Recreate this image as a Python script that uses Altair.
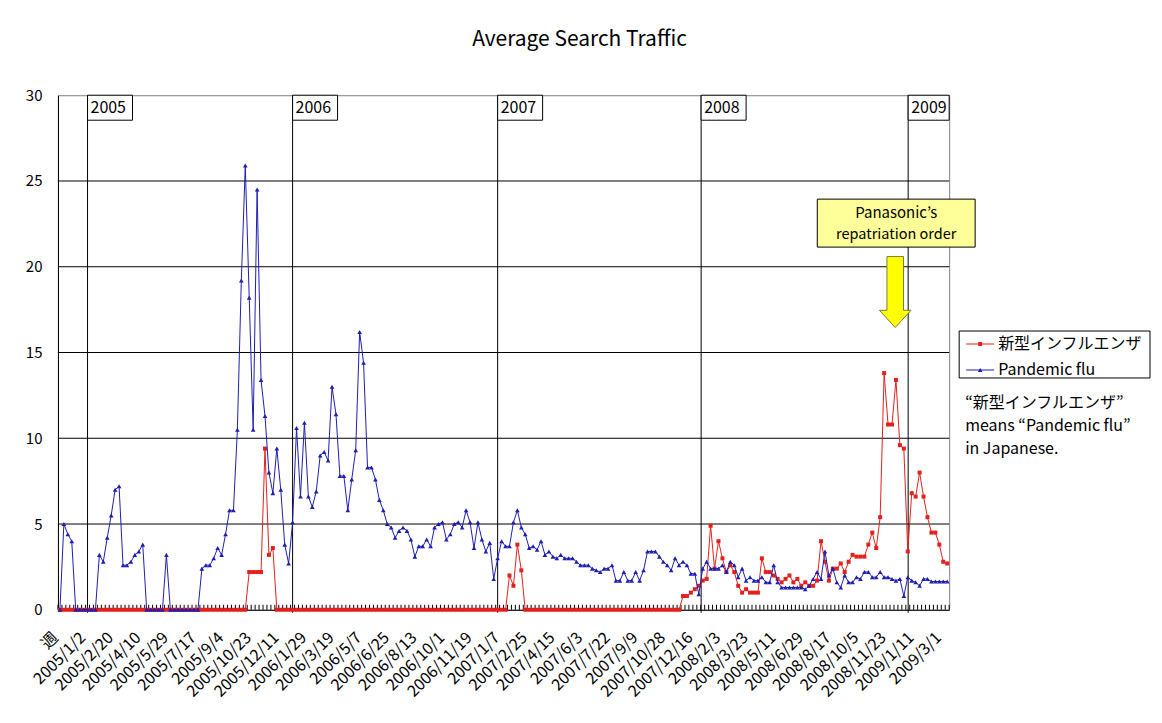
import json
import altair as alt
import pandas as pd

# ---------------- data ----------------
tick_labels = [
    "週", "2005/1/2", "2005/2/20", "2005/4/10", "2005/5/29", "2005/7/17", "2005/9/4",
    "2005/10/23", "2005/12/11", "2006/1/29", "2006/3/19", "2006/5/7", "2006/6/25",
    "2006/8/13", "2006/10/1", "2006/11/19", "2007/1/7", "2007/2/25", "2007/4/15",
    "2007/6/3", "2007/7/22", "2007/9/9", "2007/10/28", "2007/12/16", "2008/2/3",
    "2008/3/23", "2008/5/11", "2008/6/29", "2008/8/17", "2008/10/5", "2008/11/23",
    "2009/1/11", "2009/3/1",
]

# 新型インフルエンザ (weekly, index 0..225)
red = [
    0, 0, 0, 0, 0, 0, 0, 0, 0, 0, 0, 0, 0, 0, 0, 0,
    0, 0, 0, 0, 0, 0, 0, 0, 0, 0, 0, 0, 0, 0, 0, 0,
    0, 0, 0, 0, 0, 0, 0, 0, 0, 0, 0, 0, 0, 0, 0, 0,
    2.2, 2.2, 2.2, 2.2, 9.4, 3.2, 3.6,
    0, 0, 0, 0, 0, 0, 0, 0, 0, 0, 0, 0, 0, 0, 0, 0, 0, 0, 0, 0,
    0, 0, 0, 0, 0, 0, 0, 0, 0, 0, 0, 0, 0, 0, 0, 0, 0, 0, 0, 0,
    0, 0, 0, 0, 0, 0, 0, 0, 0, 0, 0, 0, 0, 0, 0, 0, 0, 0, 0,
    2.0, 1.4, 3.8, 2.3,
    0, 0, 0, 0, 0, 0, 0, 0, 0, 0, 0, 0, 0, 0, 0, 0, 0, 0, 0, 0,
    0, 0, 0, 0, 0, 0, 0, 0, 0, 0, 0, 0, 0, 0, 0, 0, 0, 0, 0, 0,
    0.8, 0.8, 1.0, 1.2, 1.4, 1.7, 1.8,
    4.9, 2.4, 4.0, 3.0, 2.2, 2.6, 2.2,
    1.4, 1.0, 1.2, 1.0, 1.0, 1.0,
    3.0, 2.2, 2.2, 2.0, 1.8, 1.6, 1.8, 2.0, 1.6, 1.8, 1.4,
    1.6, 1.4, 1.4, 1.7,
    4.0, 2.8, 1.7, 2.4, 2.4, 2.7, 2.2, 2.8, 3.2, 3.1, 3.1, 3.1,
    3.8, 4.5, 3.6, 5.4,
    13.8, 10.8, 10.8, 13.4, 9.6, 9.4,
    3.4, 6.8, 6.6, 8.0, 6.6, 5.4, 4.5, 4.5, 3.8, 2.8, 2.7,
]

# Pandemic flu
blue = [
    0,
    5.0, 4.4, 4.0,
    0, 0, 0, 0, 0, 0,
    3.2, 2.8, 4.2, 5.5, 7.0, 7.2, 2.6, 2.6, 2.8, 3.2, 3.4, 3.8,
    0, 0, 0, 0, 0,
    3.2,
    0, 0, 0, 0, 0, 0, 0, 0,
    2.4, 2.6, 2.6, 3.0, 3.6, 3.2, 4.4, 5.8, 5.8,
    10.5, 19.2, 25.9, 18.2, 10.5, 24.5, 13.4, 11.3, 8.0, 6.8, 9.4, 7.0, 3.8, 2.7, 5.1,
    10.6, 6.6, 10.9, 6.6, 6.0, 6.9, 9.0, 9.2, 8.7, 13.0, 11.4, 7.8, 7.8, 5.8, 7.6, 9.3,
    16.2, 14.4, 8.3, 8.3, 7.6, 6.4, 5.8, 5.0, 4.8, 4.2, 4.6, 4.8, 4.6, 4.1,
    3.1, 3.7, 3.7, 4.1, 3.7, 4.8, 5.0, 5.1, 4.1, 4.4, 5.0, 5.1, 4.8, 5.8, 5.1, 3.6,
    5.1, 4.1, 3.4, 3.9, 1.8, 3.0,
    4.0, 3.7, 3.7, 5.1, 5.8, 4.8, 4.4, 3.6, 3.7, 3.5, 4.0, 3.2, 3.4,
    3.1, 3.0, 3.2, 3.0, 3.0, 3.0, 2.8, 2.6, 2.6, 2.6, 2.4, 2.3, 2.2, 2.4, 2.4, 2.6,
    1.7, 1.7, 2.2, 1.7, 1.7, 2.2, 1.7, 2.3,
    3.4, 3.4, 3.4, 3.1, 2.8, 2.6, 2.3, 3.0, 2.6, 2.8, 2.6, 2.1, 2.1, 0.9,
    2.4, 2.8, 2.4, 2.4, 2.4, 2.6, 2.2, 2.8, 2.6, 1.9, 2.4, 1.7, 1.9, 1.7, 1.7, 1.9,
    1.6, 1.6, 2.6, 1.6,
    1.3, 1.3, 1.3, 1.3, 1.3, 1.3, 1.2, 1.4, 1.8, 2.2, 1.8, 3.4, 2.0, 2.4, 1.6, 1.3, 2.0,
    1.6, 1.6, 1.9, 1.8, 2.2, 2.2, 1.9, 1.9, 2.2, 1.9, 1.9, 1.8, 1.7, 1.8,
    0.8, 1.9, 1.7, 1.6, 1.4, 1.8, 1.8, 1.65, 1.65, 1.65, 1.65, 1.65,
]

years = ["2005", "2006", "2007", "2008", "2009"]
year_week = [7, 59, 111, 162.6, 215.1]   # week index where each year's marker line sits

series_names = ["新型インフルエンザ", "Pandemic flu"]
title_text = "Average Search Traffic"
note_lines = ["“新型インフルエンザ”", "means “Pandemic flu”", "in Japanese."]
callout_lines = ["Panasonic’s", "repatriation order"]

assert len(red) == len(blue) == 226, (len(red), len(blue))

# ---------------- layout / style ----------------
N = len(red)
W, H = 892, 515
FONT = "Noto Sans CJK JP"
RED = "#E3201C"
BLUE = "#1E1EB0"

df = pd.DataFrame({"week": list(range(N)), "red": red, "blue": blue})

xscale = alt.Scale(domain=[-0.5, N - 0.5], nice=False, zero=False)
yscale = alt.Scale(domain=[0, 30], nice=False, zero=True)

label_js = json.dumps(tick_labels, ensure_ascii=False)
xaxis = alt.Axis(
    values=list(range(0, N, 7)),
    labelExpr=f"{label_js}[round(datum.value / 7)]",
    labelAngle=315, labelAlign="right", labelBaseline="middle",
    labelPadding=25, labelOffset=-5, labelFont=FONT, labelFontSize=16, labelColor="black",
    labelOverlap=False, labelFlush=False, labelBound=False,
    ticks=False, grid=False, domainColor="black", domainWidth=1, title=None,
)
yaxis = alt.Axis(
    values=[0, 5, 10, 15, 20, 25, 30], labelFont=FONT, labelFontSize=15,
    labelColor="black", labelPadding=16, ticks=False, grid=False,
    domainColor="black", domainWidth=1, title=None,
)

X = lambda f: alt.X(f, scale=xscale, axis=xaxis)
Y = lambda f: alt.Y(f, scale=yscale, axis=yaxis)

grid = alt.Chart(pd.DataFrame({"v": [5, 10, 15, 20, 25]})).mark_rule(
    color="black", strokeWidth=1).encode(y=Y("v:Q"))

tick_df = pd.DataFrame({"b": [i - 0.5 for i in range(N + 1)]})
ticks = alt.Chart(tick_df).mark_rule(color="black", strokeWidth=1).encode(
    x=X("b:Q"), y=alt.value(H - 5), y2=alt.value(H))

year_df = pd.DataFrame({"year": years, "pos": year_week})
box_w = 45 * N / W
box_h = 25 * 30 / H
year_df["pos2"] = [min(p + box_w, N - 0.5) for p in year_week]
year_df["top"] = 30
year_df["bot"] = 30 - box_h
year_df["mid"] = 30 - box_h / 2

year_lines = alt.Chart(year_df).mark_rule(color="black", strokeWidth=1).encode(
    x=X("pos:Q"), y=alt.value(0), y2=alt.value(H + 3))
year_boxes = alt.Chart(year_df).mark_rect(fill="white", stroke="black", strokeWidth=1).encode(
    x=X("pos:Q"), x2="pos2:Q", y=Y("top:Q"), y2="bot:Q")
year_text = alt.Chart(year_df).mark_text(
    align="left", baseline="middle", dx=3, font=FONT, fontSize=16, color="black").encode(
    x=X("pos:Q"), y=Y("mid:Q"), text="year:N")

red_line = alt.Chart(df).mark_line(color=RED, strokeWidth=1).encode(
    x=X("week:Q"), y=Y("red:Q"))
red_pts = alt.Chart(df).mark_point(
    shape="square", filled=True, size=16, color=RED, opacity=1).encode(
    x=X("week:Q"), y=Y("red:Q"))
blue_line = alt.Chart(df).mark_line(color=BLUE, strokeWidth=1).encode(
    x=X("week:Q"), y=Y("blue:Q"))
blue_pts = alt.Chart(df).mark_point(
    shape="triangle-up", filled=True, size=22, color=BLUE, opacity=1).encode(
    x=X("week:Q"), y=Y("blue:Q"))

one = pd.DataFrame({"k": [0]})

def txt(s, x, y, size=15, align="left"):
    return alt.Chart(one).mark_text(
        text=s, align=align, baseline="middle", font=FONT, fontSize=size, color="black"
    ).encode(x=alt.value(x), y=alt.value(y))

title = txt(title_text, 522, -55, size=21, align="center")

callout_box = alt.Chart(one).mark_rect(fill="#FFFF99", stroke="black", strokeWidth=1).encode(
    x=alt.value(760), x2=alt.value(918), y=alt.value(104), y2=alt.value(152))
callout1 = txt(callout_lines[0], 839, 118, size=15, align="center")
callout2 = txt(callout_lines[1], 839, 140, size=14.5, align="center")

arrow_path = "M-0.234,-1L0.234,-1L0.234,0.515L0.445,0.515L0,1L-0.445,0.515L-0.234,0.515Z"
arrow = alt.Chart(one).mark_point(
    shape=arrow_path, size=5041, filled=True, fill="#FFFF00", stroke="#7A7A3A",
    strokeWidth=1, opacity=1, fillOpacity=1).encode(x=alt.value(838), y=alt.value(197))

legend_box = alt.Chart(one).mark_rect(fill="white", stroke="black", strokeWidth=1).encode(
    x=alt.value(902), x2=alt.value(1093), y=alt.value(236), y2=alt.value(283))
leg_red_line = alt.Chart(one).mark_rule(color=RED, strokeWidth=1).encode(
    x=alt.value(909), x2=alt.value(937), y=alt.value(249))
leg_blue_line = alt.Chart(one).mark_rule(color=BLUE, strokeWidth=1).encode(
    x=alt.value(909), x2=alt.value(937), y=alt.value(275))
leg_red_pt = alt.Chart(one).mark_point(shape="square", filled=True, size=16, color=RED, opacity=1).encode(
    x=alt.value(923), y=alt.value(249))
leg_blue_pt = alt.Chart(one).mark_point(shape="triangle-up", filled=True, size=22, color=BLUE, opacity=1).encode(
    x=alt.value(923), y=alt.value(275))
leg_t1 = txt(series_names[0], 941, 249, size=16)
leg_t2 = txt(series_names[1], 941, 275, size=16)

note1 = txt(note_lines[0], 908, 308, size=16)
note2 = txt(note_lines[1], 908, 331, size=16)
note3 = txt(note_lines[2], 908, 354, size=16)

chart = alt.layer(
    grid, ticks, year_lines,
    red_line, red_pts, blue_line, blue_pts,
    year_boxes, year_text,
    title, callout_box, callout1, callout2, arrow,
    legend_box, leg_red_line, leg_blue_line, leg_red_pt, leg_blue_pt, leg_t1, leg_t2,
    note1, note2, note3,
).properties(
    width=W, height=H,
    padding={"left": 50, "top": 87, "right": 205, "bottom": 100},
    autosize=alt.AutoSizeParams(type="none"),
    background="white",
).configure_view(stroke="#808080", strokeWidth=1)

chart.save("out.html", embed_options={"renderer": "svg", "actions": False})
